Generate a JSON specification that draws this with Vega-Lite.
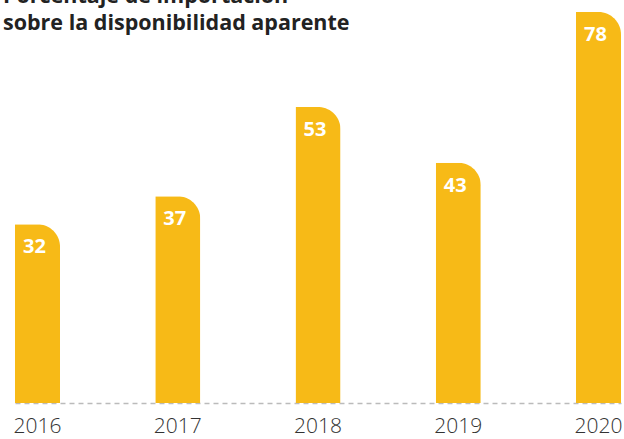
{
  "$schema": "https://vega.github.io/schema/vega-lite/v6.json",
  "width": 606,
  "height": 391,
  "autosize": {"type": "none"},
  "padding": {"left": 15, "top": 12, "right": 3, "bottom": 36},
  "background": "white",
  "title": {
    "text": ["Porcentaje de importación", "sobre la disponibilidad aparente"],
    "anchor": "start",
    "frame": "group",
    "orient": "top",
    "offset": 0,
    "dx": -12,
    "dy": 22,
    "font": "Open Sans",
    "fontSize": 21.5,
    "fontWeight": "bold",
    "lineHeight": 27,
    "color": "#222222"
  },
  "data": {
    "values": [
      {"year": "2016", "value": 32},
      {"year": "2017", "value": 37},
      {"year": "2018", "value": 53},
      {"year": "2019", "value": 43},
      {"year": "2020", "value": 78}
    ]
  },
  "config": {"view": {"stroke": null}},
  "encoding": {
    "x": {
      "field": "year",
      "type": "ordinal",
      "scale": {"paddingInner": 0.679, "paddingOuter": 0},
      "axis": {
        "title": null,
        "labelAngle": 0,
        "ticks": false,
        "domainColor": "#bbbbbb",
        "domainDash": [5, 4],
        "domainWidth": 1.5,
        "labelFont": "Open Sans",
        "labelFontSize": 21,
        "labelFontWeight": 300,
        "labelColor": "#333333",
        "labelPadding": 12,
        "labelOverlap": false,
        "labelBound": false,
        "grid": false
      }
    }
  },
  "layer": [
    {
      "mark": {"type": "bar", "color": "#F7BA17", "cornerRadiusTopRight": 26, "clip": false},
      "encoding": {
        "y": {
          "field": "value",
          "type": "quantitative",
          "scale": {"domain": [0, 70], "clamp": true, "nice": false},
          "axis": null
        }
      }
    },
    {
      "mark": {"type": "text", "color": "white", "font": "Open Sans", "fontWeight": "bold", "fontSize": 20, "align": "left", "baseline": "alphabetic", "dx": 8, "dy": 29},
      "encoding": {
        "x": {"field": "year", "type": "ordinal", "bandPosition": 0},
        "y": {"field": "value", "type": "quantitative"},
        "text": {"field": "value", "type": "quantitative"}
      }
    }
  ]
}
